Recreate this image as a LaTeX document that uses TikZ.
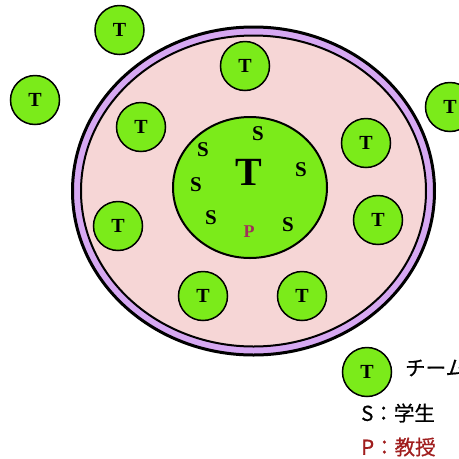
\documentclass[tikz,border=0pt]{standalone}
\usepackage{fontspec}
\usetikzlibrary{shapes.geometric}
\setmainfont{Liberation Serif}
\newfontfamily\jpfont[FakeBold=0.6]{Noto Sans CJK JP}
\definecolor{tgreen}{HTML}{7BEB1A}
\definecolor{tpink}{HTML}{F6D6D6}
\definecolor{tpurple}{HTML}{D6A8F2}
\definecolor{pcol}{HTML}{A0305A}
\definecolor{lred}{HTML}{A01E1E}
\begin{document}
\begin{tikzpicture}[x=1pt,y=-1pt,
  team/.style={circle,draw=black,line width=1.5pt,fill=tgreen,minimum size=49pt,inner sep=0pt,font=\fontsize{20}{20}\selectfont\bfseries},
  stu/.style={font=\fontsize{21}{21}\selectfont\bfseries,inner sep=0pt},
  leg/.style={font=\jpfont\fontsize{20.5}{20.5}\selectfont,inner sep=0pt,anchor=west}]
\useasboundingbox (0,0) rectangle (459,459);
\clip (0,0) rectangle (459,459);
% outer ring
\path[draw=black,line width=3pt,fill=tpurple] (253.5,191) ellipse [x radius=181,y radius=164];
\path[draw=black,line width=2pt,fill=tpink] (253.5,191) ellipse [x radius=172.5,y radius=155.5];
% central team
\node[ellipse,draw=black,line width=2pt,fill=tgreen,minimum width=154pt,minimum height=141pt,inner sep=0pt] (core) at (250,187.5) {};
\node[font=\fontsize{40}{40}\selectfont\bfseries,inner sep=0pt] (bigT) at (249,172) {T};
\node[stu] (s1) at (258,134) {S};
\node[stu] (s2) at (203,150) {S};
\node[stu] (s3) at (301,170) {S};
\node[stu] (s4) at (196,185) {S};
\node[stu] (s5) at (211,218) {S};
\node[stu] (s6) at (288,225) {S};
\node[stu,text=pcol,font=\fontsize{18}{18}\selectfont\bfseries] (p1) at (249,232) {P};
% teams
\node[team] (t1) at (119.5,30) {T};
\node[team] (t2) at (35,100) {T};
\node[team] (t3) at (450,107) {T};
\node[team] (t4) at (245,66) {T};
\node[team] (t5) at (141,127) {T};
\node[team] (t6) at (366,143) {T};
\node[team] (t7) at (118,226) {T};
\node[team] (t8) at (378,220) {T};
\node[team] (t9) at (203,296) {T};
\node[team] (t10) at (302,296) {T};
% legend
\node[team] (lt) at (367,372) {T};
\node[leg] (l1) at (405,368) {チーム};
\node[leg] (l2) at (361,413) {S：学生};
\node[leg,text=lred] (l3) at (361,447) {P：教授};
\end{tikzpicture}
\end{document}
